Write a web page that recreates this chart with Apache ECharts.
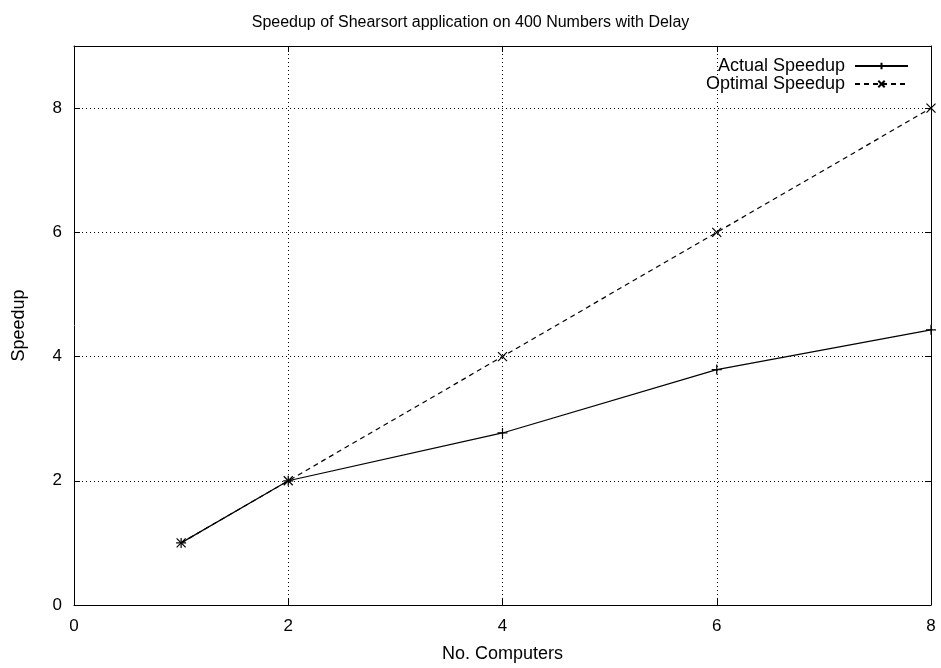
<!DOCTYPE html>
<html>
<head>
<meta charset="utf-8">
<script src="https://cdn.jsdelivr.net/npm/echarts@6/dist/echarts.min.js"></script>
<style>
  html, body { margin: 0; padding: 0; background: #fff; }
  #chart { width: 941px; height: 668px; }
</style>
</head>
<body>
<div id="chart"></div>
<script>
// data
const computers = [1, 2, 4, 6, 8]
const actualSpeedup = [1, 2, 2.77, 3.79, 4.43]
const optimalSpeedup = [1, 2, 4, 6, 8]
const seriesNames = ['Actual Speedup', 'Optimal Speedup']

const FONT = 'Liberation Sans'
const plusSym = 'path://M0,5L10,5M5,0L5,10'
const crossSym = 'path://M0,0L10,10M10,0L0,10'

const chart = echarts.init(document.getElementById('chart'))

const pairs = (ys) => computers.map((x, i) => [x, ys[i]])

const baseAxis = {
  type: 'value',
  axisLine: { show: true, onZero: false, lineStyle: { color: '#000', width: 1 } },
  axisTick: { show: true, inside: true, length: 6, lineStyle: { color: '#000' } },
  splitLine: { show: false },
  axisLabel: { color: '#000', fontFamily: FONT, fontSize: 17 }
}

const option = {
  backgroundColor: '#fff',
  animation: false,
  title: {
    text: 'Speedup of Shearsort application on 400 Numbers with Delay',
    left: 'center',
    top: 10,
    textStyle: { fontFamily: FONT, fontSize: 16, fontWeight: 'normal', color: '#000' }
  },
  grid: { left: 74, right: 10, top: 46, bottom: 62 },
  legend: {
    data: seriesNames,
    orient: 'vertical',
    right: 27,
    top: 52,
    align: 'right',
    itemWidth: 53,
    itemHeight: 8,
    itemGap: 0,
    textStyle: { fontFamily: FONT, fontSize: 18, color: '#000', padding: [0, 5, 0, 0] }
  },
  xAxis: [
    Object.assign({}, baseAxis, {
      min: 0, max: 8, interval: 2,
      name: 'No. Computers',
      nameLocation: 'middle',
      nameGap: 40,
      nameTextStyle: { fontFamily: FONT, fontSize: 18, color: '#000' },
      axisLabel: Object.assign({}, baseAxis.axisLabel, { margin: 13 }),
      splitLine: { show: true, lineStyle: { color: '#000', type: [1, 3], width: 1 } }
    }),
    Object.assign({}, baseAxis, {
      min: 0, max: 8, interval: 2, position: 'top',
      axisLabel: { show: false }
    })
  ],
  yAxis: [
    Object.assign({}, baseAxis, {
      min: 0, max: 9, interval: 2,
      name: 'Speedup',
      nameLocation: 'middle',
      nameGap: 46,
      nameTextStyle: { fontFamily: FONT, fontSize: 18, color: '#000' },
      axisLabel: Object.assign({}, baseAxis.axisLabel, { margin: 12, showMaxLabel: false }),
      splitLine: { show: true, lineStyle: { color: '#000', type: [1, 3], width: 1 } }
    }),
    Object.assign({}, baseAxis, {
      min: 0, max: 9, interval: 2, position: 'right',
      axisLabel: { show: false }
    })
  ],
  series: [
    {
      name: seriesNames[0],
      type: 'line',
      data: pairs(actualSpeedup),
      symbol: plusSym,
      symbolSize: 10,
      showAllSymbol: true,
      lineStyle: { color: '#000', width: 1.2 },
      itemStyle: { color: '#000', borderColor: '#000', borderWidth: 1.2 },
      z: 3
    },
    {
      name: seriesNames[1],
      type: 'line',
      data: pairs(optimalSpeedup),
      symbol: crossSym,
      symbolSize: 9,
      showAllSymbol: true,
      lineStyle: { color: '#000', width: 1.2, type: [5, 4] },
      itemStyle: { color: '#000', borderColor: '#000', borderWidth: 1.2 },
      z: 2
    }
  ]
}

chart.setOption(option)
</script>
</body>
</html>
